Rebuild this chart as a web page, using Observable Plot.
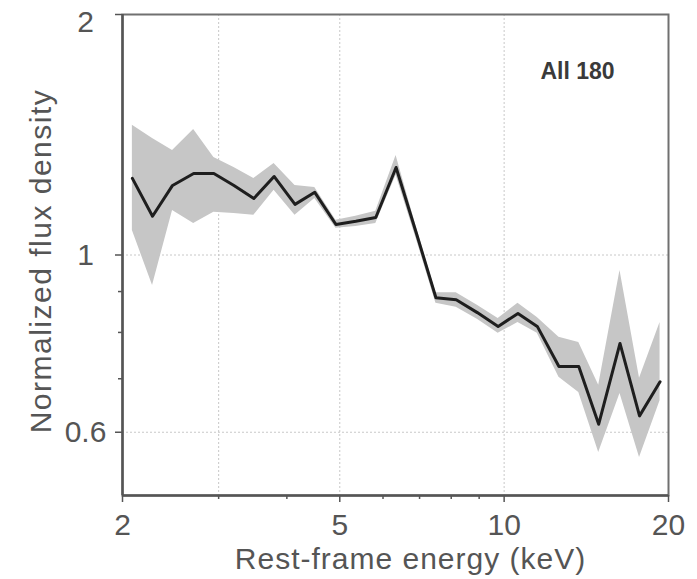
<!DOCTYPE html>
<html>
<head>
<meta charset="utf-8">
<script src="https://cdn.jsdelivr.net/npm/d3@7"></script>
<script src="https://cdn.jsdelivr.net/npm/@observablehq/plot@0.6"></script>
<style>
  html, body { margin: 0; padding: 0; background: #fff; }
</style>
</head>
<body>
<div id="chart"></div>
<script>
// Rest-frame energy (keV)
const energy = [2.085, 2.27, 2.47, 2.70, 2.94, 3.20, 3.48, 3.79, 4.14, 4.50, 4.92, 5.35, 5.82, 6.34, 6.90, 7.50, 8.17, 8.93, 9.75, 10.6, 11.5, 12.6, 13.7, 14.9, 16.3, 17.7, 19.3];
// Normalized flux density (mean)
const flux = [1.247, 1.118, 1.222, 1.265, 1.265, 1.222, 1.177, 1.254, 1.157, 1.198, 1.092, 1.102, 1.114, 1.287, 1.067, 0.884, 0.879, 0.847, 0.814, 0.845, 0.814, 0.725, 0.725, 0.614, 0.775, 0.629, 0.694];
// Band upper and lower edges
const fluxHigh = [1.453, 1.399, 1.351, 1.436, 1.324, 1.287, 1.247, 1.302, 1.222, 1.215, 1.105, 1.118, 1.134, 1.332, 1.086, 0.897, 0.897, 0.865, 0.833, 0.870, 0.835, 0.789, 0.777, 0.687, 0.956, 0.701, 0.823];
const fluxLow = [1.073, 0.916, 1.137, 1.095, 1.131, 1.127, 1.121, 1.205, 1.121, 1.177, 1.080, 1.086, 1.095, 1.258, 1.049, 0.870, 0.860, 0.831, 0.798, 0.823, 0.798, 0.703, 0.673, 0.566, 0.671, 0.558, 0.657];

const xTicks = [2, 5, 10, 20];
const xMinorTicks = [3, 4, 6, 7, 8, 9];
const xGrid = [3, 5, 10];
const yTicks = [0.6, 1, 2];
const yTopTick = [2];
const yLowTicks = [0.6, 1];
const yMinorTicks = [0.7, 0.8, 0.9];
const yGrid = [0.6, 1];
const xLabel = ["Rest-frame energy (keV)"];
const yLabel = ["Normalized flux density"];
const panelLabel = ["All 180"];

const data = energy.map((e, i) => ({energy: e, flux: flux[i], lo: fluxLow[i], hi: fluxHigh[i]}));

const textColor = "#555";
const font = "'Liberation Sans', Arial, Helvetica, sans-serif";

const chart = Plot.plot({
  width: 697,
  height: 579,
  marginLeft: 122,
  marginRight: 29,
  marginTop: 14,
  marginBottom: 84,
  style: {fontFamily: font, color: textColor, background: "#fff"},
  x: {type: "log", domain: [2, 20], axis: null},
  y: {type: "log", domain: [0.5, 2], axis: null},
  marks: [
    Plot.gridX(xGrid, {stroke: "#c8c8c8", strokeOpacity: 1, strokeDasharray: "2,2"}),
    Plot.gridY(yGrid, {stroke: "#c8c8c8", strokeOpacity: 1, strokeDasharray: "2,2"}),
    Plot.areaY(data, {x: "energy", y1: "lo", y2: "hi", fill: "#c6c6c6", curve: "linear"}),
    Plot.line(data, {x: "energy", y: "flux", stroke: "#1e1e1e", strokeWidth: 3, curve: "linear"}),
    Plot.frame({stroke: "#707070", strokeWidth: 2}),
    Plot.ruleX([2], {stroke: "#555", strokeWidth: 2.5}),
    Plot.ruleY([0.5], {stroke: "#555", strokeWidth: 2.5}),
    Plot.axisX(xTicks, {tickSize: 7, tickPadding: 11, fontSize: 30, stroke: "#555", strokeWidth: 1.5, fill: textColor, tickFormat: d => String(d), label: null}),
    Plot.axisX(xMinorTicks, {tickSize: 4, stroke: "#555", strokeWidth: 1.5, tickFormat: () => "", label: null}),
    Plot.axisY(yTicks, {tickSize: 7, stroke: "#555", strokeWidth: 1.5, tickFormat: () => "", label: null}),
    Plot.axisY(yLowTicks, {tickSize: 0, tickPadding: 37, fontSize: 30, textAnchor: "middle", fill: textColor, tickFormat: d => String(d), label: null}),
    Plot.axisY(yTopTick, {tickSize: 0, tickPadding: 37, dy: 8, fontSize: 30, textAnchor: "middle", fill: textColor, tickFormat: d => String(d), label: null}),
    Plot.axisY(yMinorTicks, {tickSize: 4, stroke: "#555", strokeWidth: 1.5, tickFormat: () => "", label: null}),
    Plot.text(xLabel, {frameAnchor: "bottom", dx: 15, dy: 73, lineAnchor: "bottom", textAnchor: "middle", fontSize: 30, fill: textColor}),
    Plot.text(yLabel, {frameAnchor: "left", rotate: -90, dx: -72, dy: 6, lineAnchor: "bottom", textAnchor: "middle", fontSize: 30, fill: textColor}),
    Plot.text(panelLabel, {frameAnchor: "top-right", dx: -91, dy: 64, lineAnchor: "bottom", textAnchor: "middle", fontSize: 23, fontWeight: "bold", fill: "#3a3a3a"})
  ]
});

d3.select(chart).selectAll("text")
  .filter(function () { return this.textContent === xLabel[0]; })
  .attr("letter-spacing", "1px");
d3.select(chart).selectAll("text")
  .filter(function () { return this.textContent === yLabel[0]; })
  .attr("letter-spacing", "1.5px");

document.getElementById("chart").appendChild(chart);
</script>
</body>
</html>
